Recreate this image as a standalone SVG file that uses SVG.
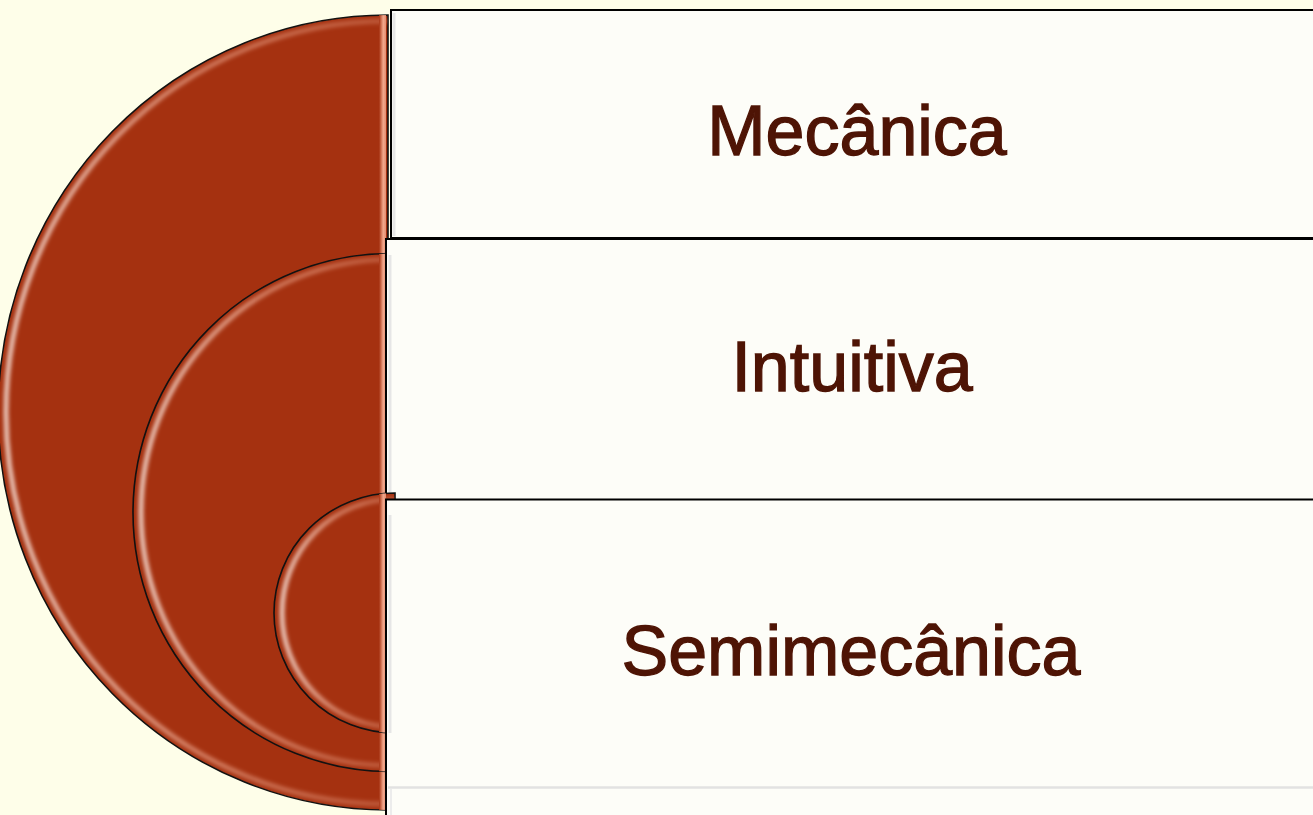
<svg xmlns="http://www.w3.org/2000/svg" width="1313" height="815" viewBox="0 0 1313 815">
  <style>
    .arc { fill: #A53110; stroke: #111; stroke-width: 1.6; }
    .hl { fill: none; stroke: url(#hlGrad); stroke-width: 4; filter: url(#soft); }
    .strip { fill: url(#stripGrad); }
    .box { fill: #FDFDF8; stroke: #000; stroke-width: 2; }
    .shade { fill: none; stroke: #E6E6E6; stroke-width: 3; }
    .label { font-family: "Liberation Sans", Arial, sans-serif; font-size: 70px; fill: #4E1405; stroke: #4E1405; stroke-width: 1.3; text-anchor: middle; }
  </style>
  <defs>
    <filter id="soft" x="-10%" y="-10%" width="120%" height="120%">
      <feGaussianBlur stdDeviation="2"/>
    </filter>
    <linearGradient id="hlGrad" x1="0" y1="0" x2="1" y2="0">
      <stop offset="0" stop-color="#FFF3EC" stop-opacity="0.95"/>
      <stop offset="0.5" stop-color="#F4B49C" stop-opacity="0.7"/>
      <stop offset="1" stop-color="#E89A7E" stop-opacity="0.45"/>
    </linearGradient>
    <linearGradient id="stripGrad" x1="0" y1="0" x2="1" y2="0">
      <stop offset="0" stop-color="#A53110"/>
      <stop offset="0.6" stop-color="#F2A88C"/>
      <stop offset="1" stop-color="#E48D70"/>
    </linearGradient>
    <clipPath id="c1"><path d="M 388 15 A 390 397.5 0 0 0 388 810 Z"/></clipPath>
    <clipPath id="c2"><path d="M 390 253.5 A 257 259 0 0 0 390 771.5 Z"/></clipPath>
    <clipPath id="c3"><path d="M 395 493 A 121 120 0 0 0 395 733 Z"/></clipPath>
  </defs>
  <rect width="1313" height="815" fill="#FEFEE9"/>
  <g id="connectors"></g>
  <g id="node-mecanica">
    <path class="arc" d="M 388 15 A 390 397.5 0 0 0 388 810 Z"/>
    <g clip-path="url(#c1)">
      <path class="hl" d="M 388 21 A 382 391.5 0 0 0 388 804"/>
      <rect class="strip" x="379" y="15" width="7" height="795"/>
    </g>
    <rect class="box" x="391" y="10" width="940" height="228"/>
    <line class="shade" x1="394" y1="13" x2="394" y2="236"/>
    <text class="label" x="857" y="155">Mecânica</text>
  </g>
  <g id="node-intuitiva">
    <path class="arc" d="M 390 253.5 A 257 259 0 0 0 390 771.5 Z"/>
    <g clip-path="url(#c2)">
      <path class="hl" d="M 390 259.5 A 249 253 0 0 0 390 765.5"/>
      <rect class="strip" x="379" y="253" width="7" height="519"/>
    </g>
    <rect class="box" x="386" y="239" width="945" height="261"/>
    <line class="shade" x1="390" y1="255" x2="390" y2="498"/>
    <text class="label" x="852" y="391">Intuitiva</text>
  </g>
  <g id="node-semimecanica">
    <path class="arc" d="M 395 493 A 121 120 0 0 0 395 733 Z"/>
    <g clip-path="url(#c3)">
      <path class="hl" d="M 395 499 A 113 114 0 0 0 395 727"/>
      <rect class="strip" x="379" y="493" width="7" height="240"/>
    </g>
    <rect class="box" x="386" y="499.5" width="945" height="330"/>
    <line class="shade" x1="390" y1="515" x2="390" y2="733"/>
    <line x1="388" y1="787.5" x2="1313" y2="787.5" stroke="#E2E2E2" stroke-width="2.5"/>
    <line x1="391" y1="789" x2="391" y2="815" stroke="#ECECEC" stroke-width="2"/>
    <text class="label" x="851" y="675">Semimecânica</text>
  </g>
</svg>
